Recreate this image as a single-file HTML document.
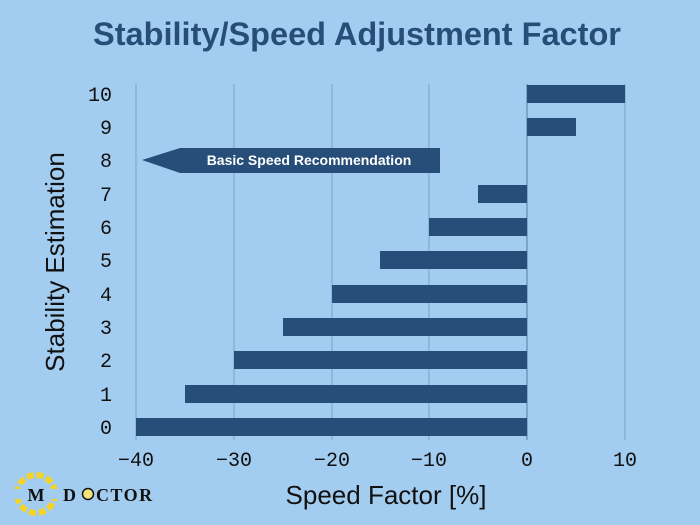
<!DOCTYPE html>
<html><head><meta charset="utf-8"><style>
html,body{margin:0;padding:0;background:#a3cdf0;}
svg{display:block}
</style></head><body>
<svg width="700" height="525" viewBox="0 0 700 525" xmlns="http://www.w3.org/2000/svg">
<rect width="700" height="525" fill="#a3cdf0"/>
<text x="357" y="45" text-anchor="middle" font-family="Liberation Sans, sans-serif" font-weight="bold" font-size="32.5" fill="#264e78">Stability/Speed Adjustment Factor</text>
<g stroke="#86b2d6" stroke-width="1.5">
<line x1="136" y1="84" x2="136" y2="440"/>
<line x1="234" y1="84" x2="234" y2="440"/>
<line x1="332" y1="84" x2="332" y2="440"/>
<line x1="429" y1="84" x2="429" y2="440"/>
<line x1="527" y1="84" x2="527" y2="440" stroke="#6f98bd"/>
<line x1="625" y1="84" x2="625" y2="440"/>
</g>
<g fill="#264e78">
<rect x="527" y="85" width="98" height="18"/>
<rect x="527" y="118" width="49" height="18"/>
<rect x="478" y="185" width="49" height="18"/>
<rect x="429" y="218" width="98" height="18"/>
<rect x="380" y="251" width="147" height="18"/>
<rect x="332" y="285" width="195" height="18"/>
<rect x="283" y="318" width="244" height="18"/>
<rect x="234" y="351" width="293" height="18"/>
<rect x="185" y="385" width="342" height="18"/>
<rect x="136" y="418" width="391" height="18"/>
<polygon points="142,160 180,148 440,148 440,173 180,173"/>
</g>
<text x="309" y="165" text-anchor="middle" font-family="Liberation Sans, sans-serif" font-weight="bold" font-size="14" fill="#fff">Basic Speed Recommendation</text>
<g font-family="Liberation Mono, DejaVu Sans Mono, monospace" font-size="20" fill="#111" text-anchor="end">
<text x="112" y="101">10</text><text x="112" y="134">9</text><text x="112" y="167">8</text>
<text x="112" y="201">7</text><text x="112" y="234">6</text><text x="112" y="267">5</text>
<text x="112" y="301">4</text><text x="112" y="334">3</text><text x="112" y="367">2</text>
<text x="112" y="401">1</text><text x="112" y="434">0</text>
</g>
<g font-family="Liberation Mono, DejaVu Sans Mono, monospace" font-size="20" fill="#111" text-anchor="middle">
<text x="136" y="466">−40</text><text x="234" y="466">−30</text><text x="332" y="466">−20</text>
<text x="429" y="466">−10</text><text x="527" y="466">0</text><text x="625" y="466">10</text>
</g>
<text x="386" y="504" text-anchor="middle" font-family="Liberation Sans, sans-serif" font-size="26" fill="#111">Speed Factor [%]</text>
<text transform="translate(64,262) rotate(-90)" text-anchor="middle" font-family="Liberation Sans, sans-serif" font-size="26" fill="#111">Stability Estimation</text>
<g>
<circle cx="36" cy="494" r="19" fill="none" stroke="#f5d327" stroke-width="6" stroke-dasharray="7 3"/>
<rect x="12" y="489" width="48" height="10" fill="#a3cdf0"/>
<text x="36" y="501" text-anchor="middle" font-family="Liberation Serif, serif" font-weight="bold" font-size="18" fill="#111">M</text>
<text x="63" y="501" font-family="Liberation Serif, serif" font-weight="bold" font-size="18" fill="#111" letter-spacing="1.5">D</text>
<circle cx="88" cy="494" r="5.5" fill="#f3e27a" stroke="#111" stroke-width="1.5"/>
<text x="96" y="501" font-family="Liberation Serif, serif" font-weight="bold" font-size="18" fill="#111" letter-spacing="1.5">CTOR</text>
</g>
</svg>
</body></html>
